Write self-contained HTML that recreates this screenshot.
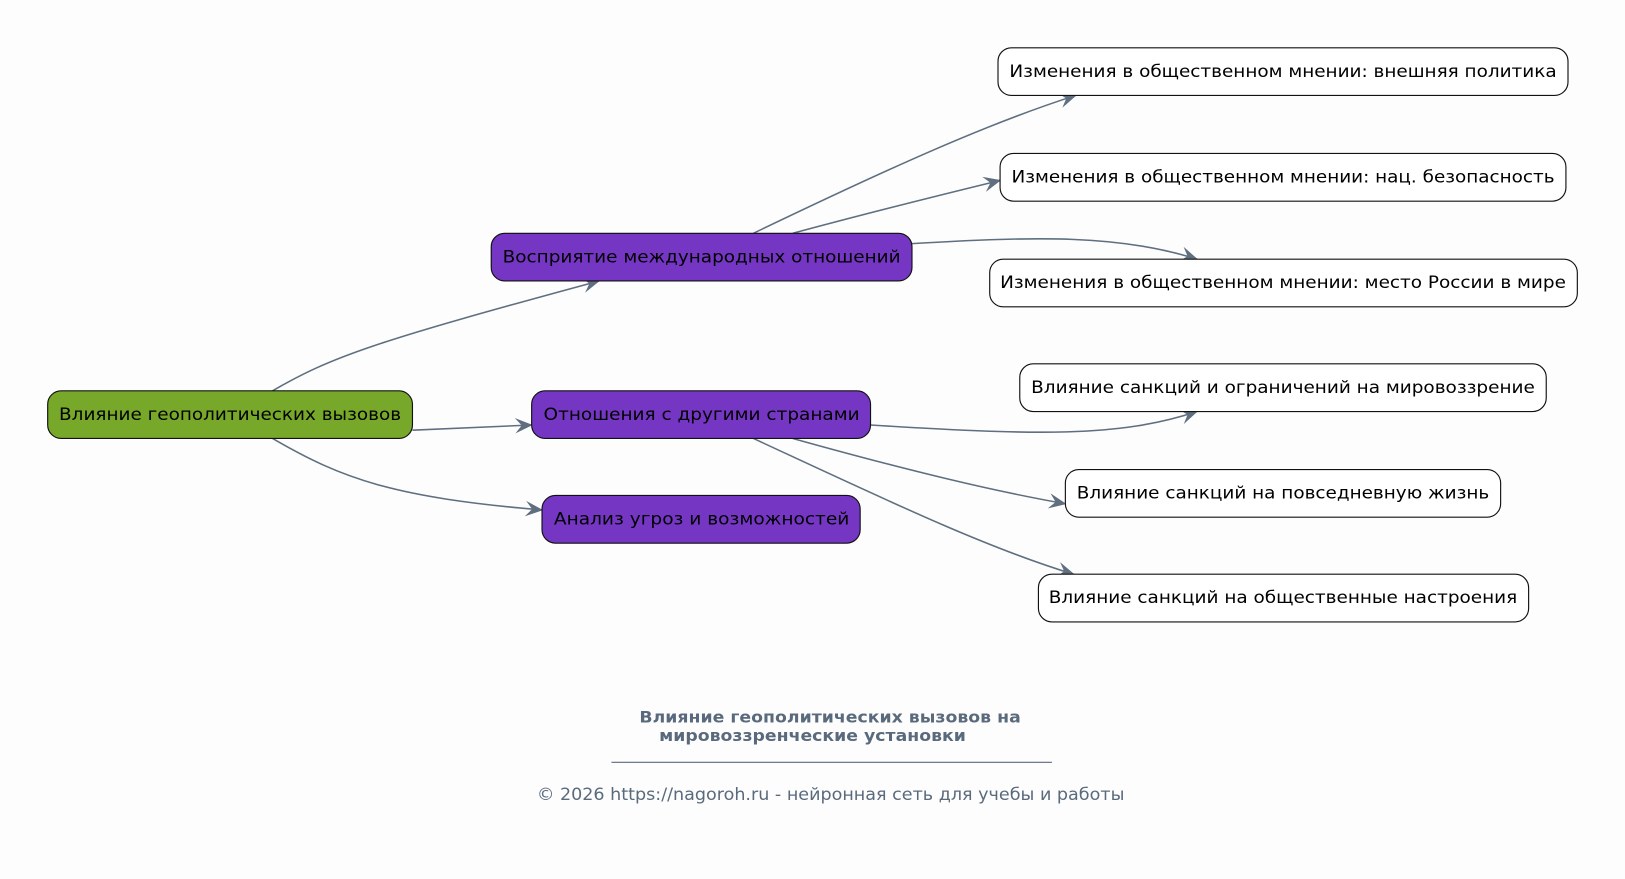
<!DOCTYPE html>
<html><head><meta charset="utf-8"><style>
html,body{margin:0;padding:0;background:#fdfdfd;}
svg{display:block}
text{font-family:"DejaVu Sans","Liberation Sans",sans-serif;}
</style></head><body>
<svg width="1625" height="879" viewBox="0 0 1568 848" xmlns="http://www.w3.org/2000/svg">
<defs>
<marker id="a" viewBox="0 0 16 14" refX="15" refY="7" markerWidth="17" markerHeight="15" markerUnits="userSpaceOnUse" orient="auto">
<path d="M0,0 L16,7 L0,14 L6,7 Z" fill="#5f6f80"/>
</marker>
</defs>
<rect width="1568" height="848" fill="#fdfdfd"/>
<g fill="none" stroke="#5f6f80" stroke-width="1.5" marker-end="url(#a)">
<path d="M263,377 C320,344 360,330 578,271"/>
<path d="M398,415 L513,410"/>
<path d="M263,423 C330,462 380,480 523,492"/>
<path d="M727,225 C850,166 950,120 1038,92"/>
<path d="M765,225 C850,202 920,185 965,174"/>
<path d="M880,235 C1000,228 1080,226 1155,250"/>
<path d="M840,410 C1000,420 1080,422 1155,397"/>
<path d="M765,423 C880,455 960,474 1028,486"/>
<path d="M727,423 C850,480 950,528 1036,554"/>
</g>
<g stroke="#111" stroke-width="1.1">
<rect x="46" y="377" width="352" height="46" rx="13" fill="#77a82a"/>
<rect x="474" y="225" width="406" height="46" rx="13" fill="#7536c4"/>
<rect x="513" y="377" width="327" height="46" rx="13" fill="#7536c4"/>
<rect x="523" y="478" width="307" height="46" rx="13" fill="#7536c4"/>
<rect x="963" y="46" width="550" height="46" rx="13" fill="#fff"/>
<rect x="965" y="148" width="546" height="46" rx="13" fill="#fff"/>
<rect x="955" y="250" width="567" height="46" rx="13" fill="#fff"/>
<rect x="984" y="351" width="508" height="46" rx="13" fill="#fff"/>
<rect x="1028" y="453" width="420" height="46" rx="13" fill="#fff"/>
<rect x="1002" y="554" width="473" height="46" rx="13" fill="#fff"/>
</g>
<g font-size="16.5" fill="#000" text-anchor="middle">
<text x="222" y="405" textLength="330" lengthAdjust="spacingAndGlyphs">Влияние геополитических вызовов</text>
<text x="677" y="253" textLength="384" lengthAdjust="spacingAndGlyphs">Восприятие международных отношений</text>
<text x="677" y="405" textLength="305" lengthAdjust="spacingAndGlyphs">Отношения с другими странами</text>
<text x="677" y="506" textLength="285" lengthAdjust="spacingAndGlyphs">Анализ угроз и возможностей</text>
<text x="1238" y="74" textLength="528" lengthAdjust="spacingAndGlyphs">Изменения в общественном мнении: внешняя политика</text>
<text x="1238" y="176" textLength="524" lengthAdjust="spacingAndGlyphs">Изменения в общественном мнении: нац. безопасность</text>
<text x="1238" y="278" textLength="546" lengthAdjust="spacingAndGlyphs">Изменения в общественном мнении: место России в мире</text>
<text x="1238" y="379" textLength="486" lengthAdjust="spacingAndGlyphs">Влияние санкций и ограничений на мировоззрение</text>
<text x="1238" y="481" textLength="398" lengthAdjust="spacingAndGlyphs">Влияние санкций на повседневную жизнь</text>
<text x="1238" y="582" textLength="452" lengthAdjust="spacingAndGlyphs">Влияние санкций на общественные настроения</text>
</g>
<g fill="#5a6a7d">
<text x="617" y="697" font-size="15" font-weight="bold" textLength="368" lengthAdjust="spacingAndGlyphs">Влияние геополитических вызовов на</text>
<text x="636" y="715" font-size="15" font-weight="bold" textLength="296" lengthAdjust="spacingAndGlyphs">мировоззренческие установки</text>
<line x1="590" y1="735.5" x2="1015" y2="735.5" stroke="#5a6a7d" stroke-width="1"/>
<text x="518" y="772" font-size="16" textLength="567" lengthAdjust="spacingAndGlyphs">© 2026 https://nagoroh.ru - нейронная сеть для учебы и работы</text>
</g>
</svg>
</body></html>
